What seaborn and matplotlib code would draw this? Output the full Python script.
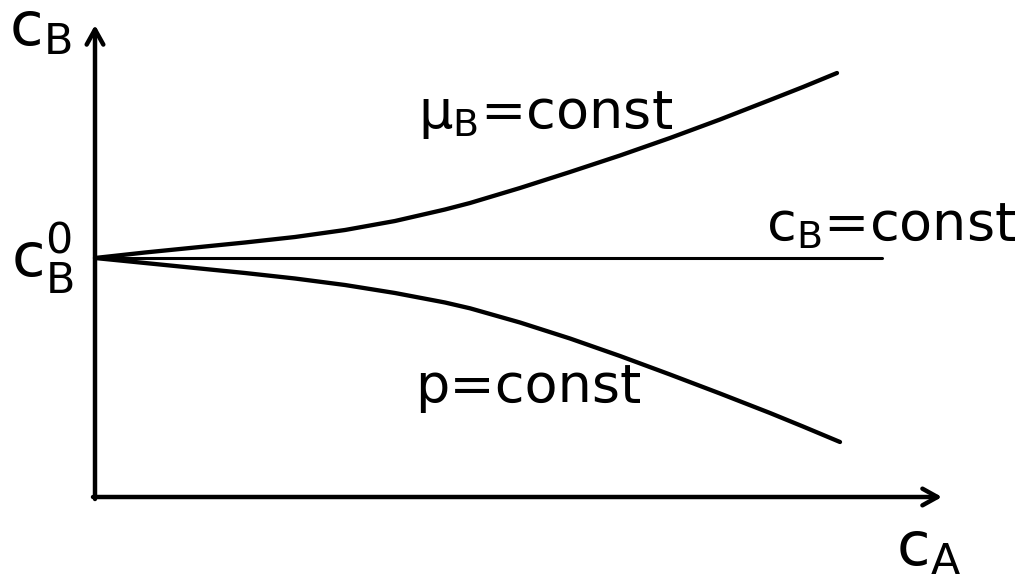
import numpy as np
import pandas as pd
import matplotlib
matplotlib.use('Agg')
import matplotlib.pyplot as plt
import seaborn as sns

# curve data (c_A, c_B) in arbitrary units
cA_mu = [0, 0.5, 1.0, 1.5, 2.0, 2.5, 3.0, 3.5, 3.75, 4.25, 4.75, 5.25, 5.75, 6.25, 6.75, 7.08, 7.42]
cB_mu = [2.39, 2.445, 2.495, 2.545, 2.60, 2.67, 2.76, 2.875, 2.94, 3.09, 3.25, 3.415, 3.59, 3.775, 3.97, 4.10, 4.24]
cA_p = [0, 0.5, 1.0, 1.5, 2.0, 2.5, 3.0, 3.5, 3.75, 4.25, 4.75, 5.25, 5.75, 6.25, 6.75, 7.08, 7.45]
cB_p = [2.39, 2.34, 2.29, 2.24, 2.185, 2.12, 2.04, 1.945, 1.887, 1.745, 1.585, 1.41, 1.225, 1.035, 0.84, 0.705, 0.55]
cA_c = [0, 7.87]
cB_c = [2.39, 2.39]

sns.set_theme(style='white')
plt.rcParams['font.family'] = ['DejaVu Sans']
plt.rcParams['mathtext.fontset'] = 'dejavusans'
plt.rcParams['text.color'] = 'black'

fig = plt.figure(figsize=(10.21, 5.84), dpi=100)
ax = fig.add_axes([0, 0, 1, 1])

sns.lineplot(x=cA_mu, y=cB_mu, ax=ax, color='black', lw=3.1, sort=False,
             solid_joinstyle='round')
sns.lineplot(x=cA_p, y=cB_p, ax=ax, color='black', lw=3.1, sort=False,
             solid_joinstyle='round')
sns.lineplot(x=cA_c, y=cB_c, ax=ax, color='black', lw=2.2, sort=False)

# axes with arrows
arrow = dict(arrowstyle='->,head_length=0.9,head_width=0.5', lw=3.2, color='black',
             shrinkA=0, shrinkB=0)
ax.annotate('', xy=(8.47, 0), xytext=(-0.02, 0), arrowprops=arrow)
ax.annotate('', xy=(0, 4.72), xytext=(0, -0.02), arrowprops=arrow)

ax.set_xlim(-0.95, 9.26)
ax.set_ylim(-0.87, 4.97)
ax.axis('off')

big = 44
mid = 39
ax.text(-0.86, 4.52, r'c$_\mathregular{B}$', fontsize=big, va='baseline', ha='left')
ax.text(-0.84, 2.19, r'$\mathregular{c_B^0}$', fontsize=big, va='baseline', ha='left')
ax.text(8.01, -0.68, r'c$_\mathregular{A}$', fontsize=big, va='baseline', ha='left')
ax.text(3.23, 3.69, r'μ$_\mathregular{B}$=const', fontsize=mid, va='baseline', ha='left')
ax.text(6.71, 2.57, r'c$_\mathregular{B}$=const', fontsize=mid, va='baseline', ha='left')
ax.text(3.20, 0.95, 'p=const', fontsize=mid, va='baseline', ha='left')

fig.savefig('out.png', dpi=100, facecolor='white')
